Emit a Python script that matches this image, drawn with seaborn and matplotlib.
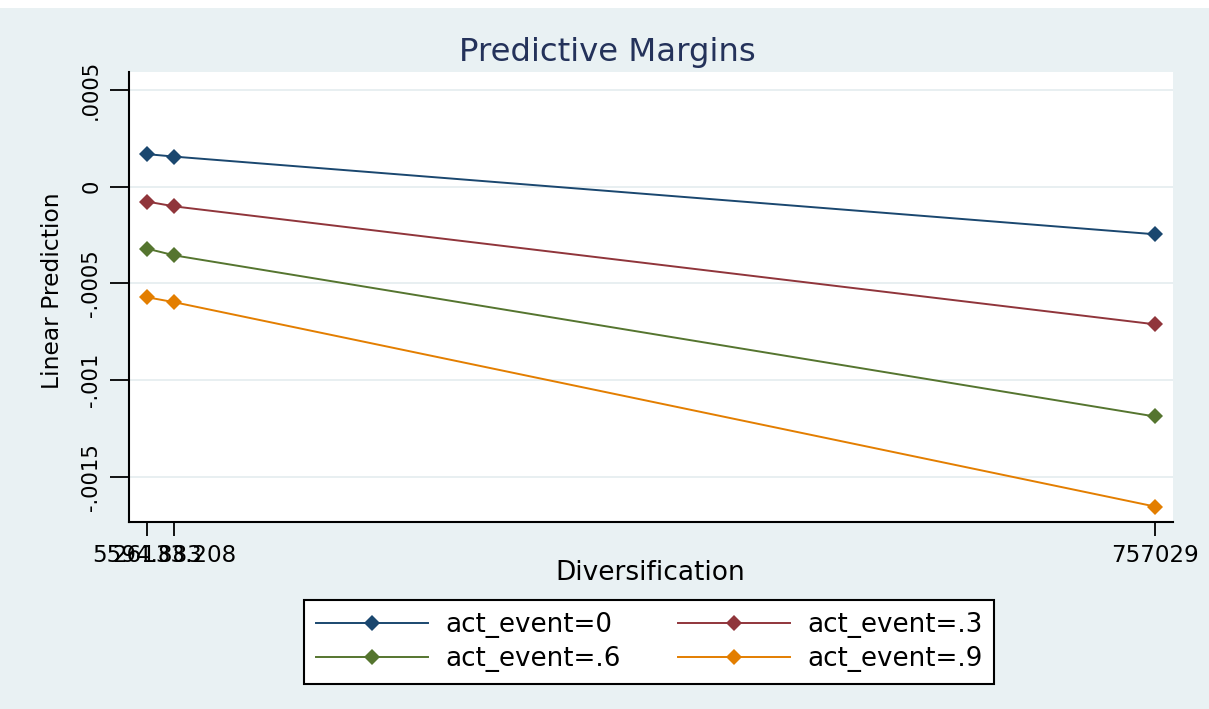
import matplotlib
matplotlib.use("Agg")
import matplotlib.pyplot as plt
from matplotlib.patches import Rectangle
import numpy as np
import pandas as pd
import seaborn as sns

# Diversification values at which the margins were evaluated
diversification = [5594.883, 26133.208, 757029.0]
div_labels = ["5594.883", "26133.208", "757029"]

# Linear predictions for each act_event level
pred_0 = [0.000168, 0.000155, -0.000246]
pred_3 = [-0.000077, -0.000102, -0.000711]
pred_6 = [-0.000320, -0.000355, -0.001187]
pred_9 = [-0.000571, -0.000597, -0.001652]

series_names = ["act_event=0", "act_event=.3", "act_event=.6", "act_event=.9"]
series_values = [pred_0, pred_3, pred_6, pred_9]
colors = ["#1a476f", "#90353b", "#55752f", "#e37e00"]

y_ticks = [0.0005, 0.0, -0.0005, -0.001, -0.0015]
y_tick_labels = [".0005", "0", "-.0005", "-.001", "-.0015"]

rows = []
for name, vals in zip(series_names, series_values):
    for xv, yv in zip(diversification, vals):
        rows.append({"Diversification": xv, "pred": yv, "series": name})
df = pd.DataFrame(rows)

bg = "#e9f1f3"
fig = plt.figure(figsize=(12.09, 7.09), dpi=100, facecolor=bg)
W, H = 1209, 709
ax = fig.add_axes([129 / W, 1 - 522 / H, (1173 - 129) / W, (522 - 72) / H])
ax.set_facecolor("white")

# thin white strip along the top edge of the canvas
fig.patches.append(Rectangle((0, 1 - 8 / H), 1, 8 / H, transform=fig.transFigure,
                             facecolor="white", edgecolor="none", zorder=0))

# horizontal grid lines at the y ticks
for yt in y_ticks:
    ax.axhline(yt, color="#e6eef0", lw=1.3, zorder=0)

sns.lineplot(data=df, x="Diversification", y="pred", hue="series",
             hue_order=series_names, palette=colors, marker="D",
             markersize=8.5, markeredgewidth=0, linewidth=1.4,
             errorbar=None, ax=ax, legend=True)

span = diversification[-1] - diversification[0]
ax.set_xlim(diversification[0] - 0.01765 * span, diversification[-1] + 0.0180 * span)
ax.set_ylim(-0.001732, 0.000592)

ax.set_xticks(diversification)
ax.set_xticklabels(div_labels, fontsize=16.6)
ax.set_yticks(y_ticks)
ax.set_yticklabels(y_tick_labels, fontsize=15.2, rotation=90, va="center")

ax.tick_params(axis="x", length=10, width=1.3, pad=6, color="black")
ax.tick_params(axis="y", length=14, width=1.3, pad=6, color="black")

for side in ["top", "right"]:
    ax.spines[side].set_visible(False)
for side in ["left", "bottom"]:
    ax.spines[side].set_linewidth(1.5)
    ax.spines[side].set_color("black")

ax.set_xlabel("")
ax.set_ylabel("")
fig.text(650 / W, 1 - 573 / H, "Diversification", fontsize=19,
         ha="center", va="center")
fig.text(53 / W, 1 - 291 / H, "Linear Prediction", fontsize=16.8,
         ha="center", va="center", rotation=90)
fig.text(607 / W, 1 - 52 / H, "Predictive Margins", fontsize=23.3,
         ha="center", va="center", color="#24325a")

handles, labels = ax.get_legend_handles_labels()
ax.get_legend().remove()
order = [0, 2, 1, 3]
leg = fig.legend([handles[i] for i in order], [labels[i] for i in order],
                 ncol=2, loc="center", bbox_to_anchor=(649 / W, 1 - 642 / H),
                 fontsize=18.8, frameon=True, fancybox=False, handlelength=4.3,
                 handletextpad=0.65, columnspacing=2.2, labelspacing=0.3,
                 borderpad=0.45, borderaxespad=0)
leg.get_frame().set_edgecolor("black")
leg.get_frame().set_linewidth(1.5)
leg.get_frame().set_facecolor("white")
leg.get_frame().set_alpha(1)

fig.savefig("out.png", dpi=100, facecolor=bg)
